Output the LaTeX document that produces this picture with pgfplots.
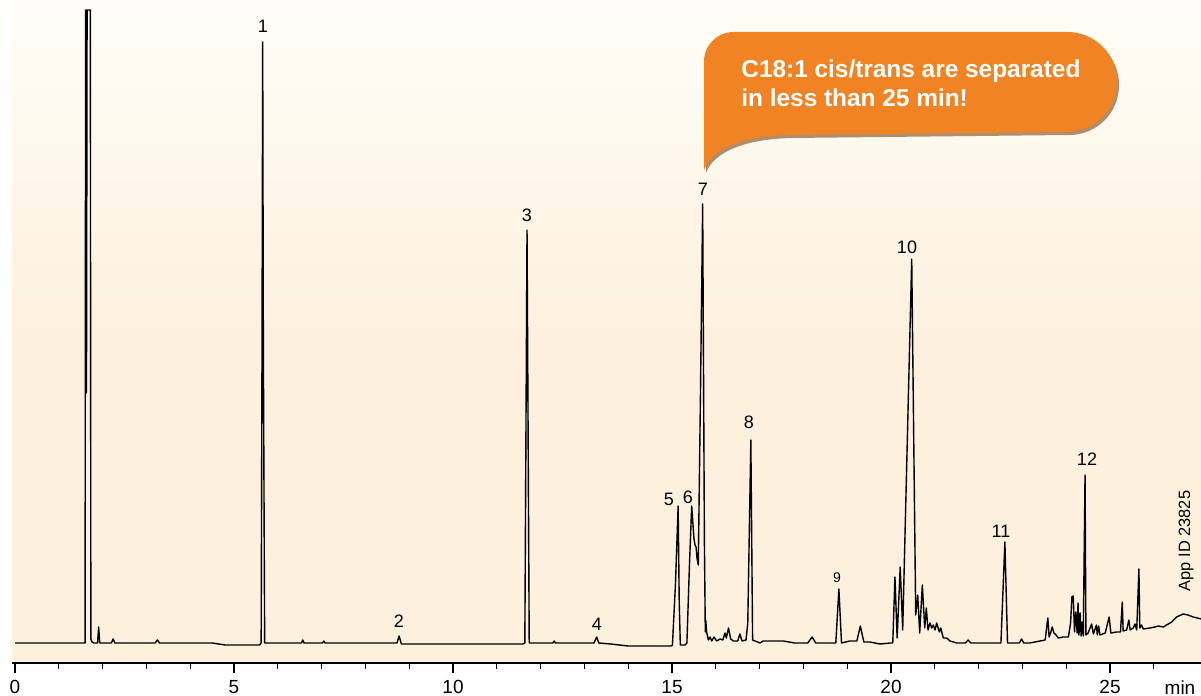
\documentclass[border=0pt]{standalone}
\usepackage{fontspec}
\setmainfont{Liberation Sans}
\usepackage{pgfplots}
\pgfplotsset{compat=1.18}
\definecolor{bgtop}{RGB}{255,253,248}
\definecolor{bgbot}{RGB}{253,241,222}
\definecolor{bubble}{RGB}{240,131,36}
\definecolor{bshadow}{RGB}{110,55,10}
\begin{document}
\begin{tikzpicture}
\begin{axis}[
  x=21.9pt, y=0.5pt,
  xmin=-0.07, xmax=27.078, ymin=-20, ymax=643,
  axis x line*=bottom, axis y line=none,
  axis line style={line width=0.6pt},
  axis background/.style={shade, top color=bgtop, bottom color=bgbot, middle color=bgbot},
  xtick={0,5,10,15,20,25},
  minor xtick={1,2,3,4,6,7,8,9,11,12,13,14,16,17,18,19,21,22,23,24,26},
  tick align=outside,
  major tick length=5pt, minor tick length=3pt,
  every tick/.style={black, line width=0.6pt},
  /pgf/number format/assume math mode=true,
  xticklabel style={font=\fontsize{9.5}{11}\selectfont},
  ytick=\empty,
]
\addplot[black, line width=0.7pt, line join=round, mark=none] coordinates {
(0,0) (1.55,0) (1.60,0) (1.612,633) (1.622,633) (1.632,250) (1.646,633) (1.72,633) (1.732,4) (1.76,1) (1.80,0)
(1.885,0) (1.91,16) (1.935,0) (2.20,0) (2.24,4) (2.28,0) (3.20,0) (3.25,3) (3.30,0) (4.50,0)
(4.80,-2) (5.58,-2) (5.62,0) (5.64,300) (5.655,601) (5.67,300) (5.70,0) (6.54,0) (6.57,3) (6.60,0)
(7.02,0) (7.05,2) (7.08,0) (8.72,0) (8.77,7) (8.82,-1) (10.0,-1) (11.60,-1) (11.64,0) (11.67,250)
(11.69,413) (11.71,250) (11.74,0) (12.28,0) (12.31,2) (12.34,0) (13.22,0) (13.28,6) (13.33,0) (13.60,-1)
(14.00,-3) (14.98,-3) (15.01,-2) (15.08,60) (15.14,137) (15.165,40) (15.19,-2) (15.30,-2) (15.34,0) (15.40,80)
(15.45,137) (15.50,105) (15.525,98) (15.55,96) (15.57,85) (15.60,78) (15.65,250) (15.70,439) (15.74,100) (15.76,11)
(15.77,23) (15.79,11) (15.83,3) (15.87,6) (15.905,2) (15.96,6) (16.02,2) (16.10,4) (16.16,3) (16.21,10)
(16.24,5) (16.29,15) (16.34,4) (16.40,2) (16.50,2) (16.55,9) (16.60,2) (16.69,3) (16.73,20) (16.80,203)
(16.84,3) (17.01,0) (17.08,2) (17.31,2) (17.54,2) (17.80,0) (18.10,0) (18.20,6) (18.28,0) (18.49,0)
(18.74,0) (18.81,54) (18.87,0) (19.06,2) (19.22,2) (19.30,17) (19.38,1) (19.52,1) (19.75,-1) (19.98,0)
(20.04,0) (20.09,66) (20.14,5) (20.21,76) (20.267,13) (20.473,384) (20.564,28) (20.610,48) (20.655,10) (20.715,58)
(20.770,15) (20.806,35) (20.845,13) (20.890,20) (20.929,15) (20.966,18) (21.005,13) (21.043,20) (21.103,11) (21.135,15)
(21.194,5) (21.272,5) (21.347,2) (21.500,0) (21.70,0) (21.76,3) (21.82,0) (21.96,0) (22.41,0) (22.51,0)
(22.60,101) (22.66,0) (22.79,0) (22.93,0) (22.98,4) (23.03,0) (23.17,0) (23.52,3) (23.58,25) (23.61,6)
(23.65,11) (23.68,16) (23.72,10) (23.77,8) (23.82,5) (23.93,6) (24.05,6) (24.10,20) (24.13,46) (24.16,47)
(24.19,11) (24.22,31) (24.25,10) (24.27,40) (24.29,8) (24.32,30) (24.34,7) (24.37,21) (24.39,7) (24.43,168)
(24.45,8) (24.50,10) (24.58,19) (24.62,9) (24.69,18) (24.71,8) (24.74,17) (24.77,8) (24.89,10) (24.98,26)
(25.02,10) (25.15,11) (25.24,11) (25.28,41) (25.30,12) (25.38,13) (25.43,23) (25.46,13) (25.53,15) (25.57,19)
(25.61,13) (25.66,74) (25.68,15) (25.72,18) (25.76,14) (25.91,15) (26.03,16) (26.10,17) (26.22,16) (26.29,18)
(26.41,21) (26.52,26) (26.67,29) (26.78,28) (26.90,26) (27.08,24)
};
\coordinate (O) at (axis cs:-0.3425,643);
\end{axis}
\begin{scope}[shift={(O)},x=0.5pt,y=-0.5pt]
  % speech bubble
  \fill[bshadow, opacity=0.55, shift={(2,3)}] (704,170) -- (704,62) .. controls (704,45) and (717,32) .. (734,32)
     -- (1067,32) .. controls (1095,32) and (1117,54) .. (1117,82) .. controls (1117,110) and (1095,132) .. (1067,132)
     -- (790,135) .. controls (745,136) and (712,148) .. (704,170) -- cycle;
  \fill[bubble] (704,170) -- (704,62) .. controls (704,45) and (717,32) .. (734,32)
     -- (1067,32) .. controls (1095,32) and (1117,54) .. (1117,82) .. controls (1117,110) and (1095,132) .. (1067,132)
     -- (790,135) .. controls (745,136) and (712,148) .. (704,170) -- cycle;
  \node[anchor=base west, inner sep=0pt, text=white, font=\bfseries\fontsize{12.2}{14}\selectfont] at (741,78) {C18:1 cis/trans are separated};
  \node[anchor=base west, inner sep=0pt, text=white, font=\bfseries\fontsize{12.2}{14}\selectfont] at (741,107) {in less than 25 min!};
  % peak labels
  \begin{scope}[every node/.style={font=\fontsize{9}{10}\selectfont, inner sep=0pt}]
    \node at (263,26) {1};
    \node at (399,621) {2};
    \node at (527,215) {3};
    \node at (597,624) {4};
    \node at (669,499) {5};
    \node at (688,497) {6};
    \node at (703,189) {7};
    \node at (749,422) {8};
    \node at (907,247) {10};
    \node at (1001,531) {11};
    \node at (1087,459) {12};
  \end{scope}
  \node[font=\fontsize{7}{8}\selectfont, inner sep=0pt] at (837,578) {9};
  \node[font=\fontsize{8.2}{9}\selectfont, inner sep=0pt, rotate=90] at (1186,541) {App ID 23825};
  \node[font=\fontsize{9.5}{11}\selectfont, inner sep=0pt, anchor=base] at (1180,695) {min};
\end{scope}
\pgfresetboundingbox
\path[use as bounding box] (O) rectangle ++(600.5pt,-348pt);
\end{tikzpicture}
\end{document}
